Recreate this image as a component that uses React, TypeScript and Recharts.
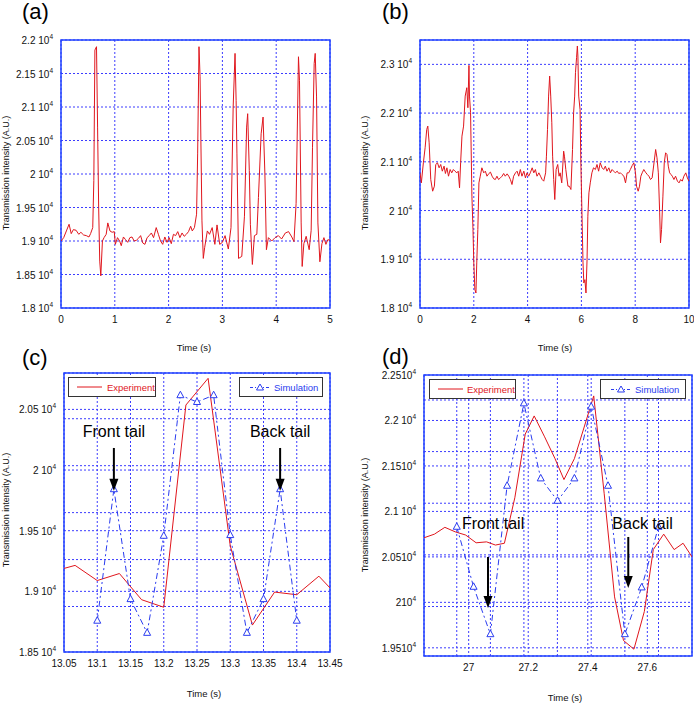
import React from 'react';
import {
  LineChart,
  Line,
  XAxis,
  YAxis,
  CartesianGrid,
  ReferenceArea,
  ReferenceLine,
  ReferenceDot,
} from 'recharts';

const RED = '#e0161d';
const BLUE = '#2a3cf0';
const GRID = '#3c3cff';
const FRAME = '#2142ff';
const FONT = '"Liberation Sans", Arial, sans-serif';

// (a) 0-5 s record
const timeA = [0, 0.05, 0.1, 0.15, 0.19, 0.23, 0.28, 0.33, 0.37, 0.42, 0.47, 0.52, 0.55, 0.59, 0.61, 0.63, 0.66, 0.68, 0.7, 0.72, 0.74, 0.77, 0.8, 0.84, 0.87, 0.91, 0.95, 0.99, 1.01, 1.05, 1.09, 1.12, 1.16, 1.2, 1.24, 1.28, 1.32, 1.36, 1.4, 1.44, 1.48, 1.52, 1.56, 1.6, 1.64, 1.68, 1.72, 1.77, 1.81, 1.85, 1.89, 1.93, 1.97, 2.01, 2.05, 2.09, 2.13, 2.17, 2.21, 2.25, 2.29, 2.33, 2.37, 2.41, 2.44, 2.48, 2.52, 2.54, 2.565, 2.585, 2.6, 2.62, 2.645, 2.67, 2.72, 2.76, 2.81, 2.86, 2.9, 2.95, 3, 3.05, 3.11, 3.16, 3.2, 3.235, 3.255, 3.27, 3.3, 3.36, 3.41, 3.45, 3.47, 3.5, 3.52, 3.557, 3.595, 3.64, 3.67, 3.72, 3.756, 3.79, 3.818, 3.855, 3.917, 3.979, 4.04, 4.1, 4.17, 4.23, 4.29, 4.33, 4.37, 4.414, 4.433, 4.464, 4.483, 4.514, 4.557, 4.613, 4.65, 4.675, 4.706, 4.725, 4.75, 4.775, 4.812, 4.85, 4.887, 4.924, 4.96, 5];
const intensityA = [19000, 19050, 19150, 19250, 19110, 19170, 19160, 19100, 19130, 19090, 19080, 19060, 19110, 19200, 19900, 21850, 21900, 20700, 19500, 18700, 18480, 19000, 19050, 19100, 19270, 19150, 19130, 19140, 18950, 19050, 19000, 18930, 19060, 19020, 18980, 19050, 19060, 19000, 19010, 19040, 19080, 18970, 18950, 19050, 19080, 19120, 19050, 19200, 19100, 19000, 18950, 19060, 18980, 19050, 18960, 19100, 19080, 19140, 19050, 19120, 19070, 19100, 19140, 19220, 19150, 19200, 19400, 20300, 21900, 21450, 20500, 19300, 18740, 18900, 19150, 19100, 19200, 18950, 19240, 18950, 18980, 19080, 18880, 19200, 21000, 21800, 21100, 20300, 18740, 18770, 19370, 20700, 20900, 20050, 19250, 18650, 19080, 19100, 19650, 20600, 20850, 20000, 18870, 19050, 19000, 19050, 19080, 19030, 19120, 19140, 19060, 18990, 19560, 21750, 21400, 19270, 18620, 18960, 19070, 18870, 19160, 20400, 21650, 21800, 21150, 19270, 18690, 18960, 19050, 18950, 19020, 19010];

// (b) 0-10 s record
const timeB = [0, 0.05, 0.125, 0.19, 0.25, 0.29, 0.34, 0.4, 0.47, 0.535, 0.585, 0.65, 0.71, 0.77, 0.83, 0.895, 0.945, 1, 1.06, 1.12, 1.18, 1.24, 1.3, 1.37, 1.42, 1.47, 1.51, 1.56, 1.62, 1.68, 1.74, 1.78, 1.82, 1.84, 1.88, 1.93, 1.97, 2, 2.04, 2.08, 2.11, 2.15, 2.19, 2.24, 2.3, 2.37, 2.43, 2.49, 2.56, 2.62, 2.68, 2.74, 2.8, 2.86, 2.92, 2.99, 3.05, 3.11, 3.17, 3.24, 3.3, 3.36, 3.42, 3.48, 3.55, 3.61, 3.67, 3.73, 3.79, 3.86, 3.92, 3.98, 4.04, 4.1, 4.17, 4.23, 4.29, 4.35, 4.42, 4.48, 4.54, 4.6, 4.67, 4.7, 4.74, 4.78, 4.82, 4.86, 4.9, 4.93, 4.97, 5.01, 5.06, 5.12, 5.17, 5.21, 5.27, 5.34, 5.37, 5.42, 5.5, 5.55, 5.61, 5.67, 5.71, 5.75, 5.78, 5.82, 5.85, 5.87, 5.9, 5.95, 5.98, 6.02, 6.06, 6.09, 6.13, 6.17, 6.21, 6.24, 6.28, 6.33, 6.39, 6.45, 6.52, 6.58, 6.64, 6.7, 6.77, 6.83, 6.89, 6.95, 7.02, 7.08, 7.14, 7.2, 7.26, 7.33, 7.39, 7.45, 7.51, 7.58, 7.64, 7.7, 7.76, 7.82, 7.89, 7.95, 8.01, 8.05, 8.11, 8.16, 8.21, 8.26, 8.32, 8.38, 8.45, 8.51, 8.57, 8.63, 8.7, 8.76, 8.81, 8.86, 8.91, 8.94, 8.98, 9.03, 9.08, 9.13, 9.18, 9.23, 9.28, 9.33, 9.38, 9.44, 9.5, 9.57, 9.63, 9.69, 9.75, 9.81, 9.88, 9.94, 10];
const intensityB = [20774, 20568, 20979, 21288, 21664, 21733, 21390, 20637, 20397, 20500, 20945, 20979, 20877, 20945, 20808, 20911, 20760, 20877, 20705, 20842, 20774, 20842, 20808, 20774, 20808, 20466, 20979, 21527, 21733, 22349, 22521, 22110, 22979, 22349, 22007, 20295, 19610, 18925, 18377, 18308, 18925, 19610, 20568, 20705, 20877, 20774, 20808, 20705, 20760, 20788, 20705, 20651, 20637, 20705, 20637, 20671, 20705, 20760, 20705, 20753, 20705, 20637, 20534, 20705, 20774, 20808, 20705, 20842, 20705, 20808, 20671, 20774, 20705, 20774, 20877, 20774, 20842, 20705, 20774, 20705, 20637, 20603, 20774, 21116, 21664, 22349, 22760, 22349, 21801, 21116, 20637, 20226, 20842, 20945, 20705, 20774, 20568, 21219, 21116, 20842, 20500, 20500, 20432, 21253, 22007, 22349, 22829, 23137, 23377, 23171, 22349, 22075, 20979, 19952, 18925, 18514, 18582, 18308, 18993, 19884, 20363, 20568, 20774, 20877, 20842, 20945, 20808, 20979, 20877, 20842, 20911, 20808, 20877, 20774, 20842, 20808, 20774, 20808, 20760, 20774, 20740, 20705, 20568, 20774, 20774, 20842, 20925, 20979, 20774, 20500, 20397, 20500, 20705, 20774, 20842, 20788, 20740, 20705, 20637, 20671, 20979, 21253, 21082, 20774, 19952, 19336, 19610, 20295, 20979, 21185, 21151, 20911, 20774, 20740, 20705, 20637, 20705, 20603, 20568, 20637, 20603, 20705, 20774, 20671, 20603];

// (c) zoom 13.05-13.45 s
const timeExpC = [13.05, 13.0667, 13.1, 13.1333, 13.1667, 13.2, 13.2333, 13.2667, 13.3, 13.3333, 13.3667, 13.4, 13.4333, 13.45];
const expC = [19189, 19214, 19089, 19147, 18931, 18869, 20536, 20756, 19375, 18722, 18994, 18972, 19125, 19028];
const timeSimC = [13.1, 13.125, 13.15, 13.175, 13.2, 13.225, 13.25, 13.275, 13.3, 13.325, 13.35, 13.375, 13.4];
const simC = [18758, 19842, 18936, 18658, 19458, 20617, 20561, 20617, 19464, 18658, 18936, 19842, 18758];

// (d) zoom 26.85-27.75 s
const timeExpD = [26.85, 26.885, 26.92, 26.955, 26.99, 27.025, 27.06, 27.09, 27.12, 27.155, 27.19, 27.22, 27.255, 27.29, 27.32, 27.355, 27.39, 27.42, 27.455, 27.49, 27.52, 27.555, 27.59, 27.62, 27.655, 27.69, 27.72, 27.75];
const expD = [20710, 20750, 20825, 20775, 20740, 20655, 20665, 20630, 20650, 21150, 21850, 22050, 21820, 21580, 21350, 21580, 21950, 22270, 21200, 20060, 19580, 19485, 19900, 20580, 20750, 20580, 20650, 20500];
const timeSimD = [26.96, 27.0165, 27.073, 27.129, 27.1855, 27.242, 27.2985, 27.355, 27.4115, 27.468, 27.5245, 27.581, 27.6375];
const simD = [20831, 20171, 19650, 21282, 22188, 21363, 21117, 21363, 22152, 21282, 19650, 20164, 20831];

// axes
const xTicksA = [0, 1, 2, 3, 4, 5];
const yTicksA = [18000, 18500, 19000, 19500, 20000, 20500, 21000, 21500, 22000];
const xTicksB = [0, 2, 4, 6, 8, 10];
const yTicksB = [18000, 19000, 20000, 21000, 22000, 23000];
const xTicksC = [13.05, 13.1, 13.15, 13.2, 13.25, 13.3, 13.35, 13.4, 13.45];
const yTicksC = [18500, 19000, 19500, 20000, 20500];
const xTicksD = [27, 27.2, 27.4, 27.6];
const yTicksD = [19500, 20000, 20500, 21000, 21500, 22000, 22500];

// second (simulation) axes grid
const simGridYC = [20423, 20036, 19649, 19262, 18875];
const simGridYD = [22225, 21658, 21090, 20522, 19954];
const simGridXD = [26.96, 27.073, 27.1855, 27.298, 27.4115, 27.5245, 27.6375];

// tail annotations: label, x, label y, arrow top, arrow tip
const tailLabels = ['Front tail', 'Back tail'];
const tailXC = [13.125, 13.375];
const tailTextYC = [20314, 20314];
const tailTopC = [20182, 20182];
const tailTipC = [19830, 19830];
const tailXD = [27.065, 27.536];
const tailTextXD = [27.082, 27.584];
const tailTextYD = [20862, 20862];
const tailTopD = [20499, 20719];
const tailTipD = [19938, 20158];

const pts = (ts: number[], vs: number[]) => ts.map((t, i) => ({ t, v: vs[i] }));

const fmtE4 = (v: number) => String(Math.round(v / 10) / 1000);

const makeYTick = (tight: boolean) => (props: any) => {
  const { x, y, payload } = props;
  const s = fmtE4(payload.value);
  const gap = tight && s.length !== 3 ? '' : ' ';
  return (
    <text x={x} y={y} dy={4} textAnchor="end" fontSize={10} fill="#111" fontFamily={FONT}>
      {s + gap + '10'}
      <tspan fontSize={6.5} dy={-5}>4</tspan>
    </text>
  );
};

const Tri = (p: any) => {
  const { cx, cy, index } = p;
  if (cx == null || cy == null) return <g key={`t-${index}`} />;
  return (
    <polygon
      key={`t-${index}`}
      points={`${cx},${cy - 4} ${cx - 3.5},${cy + 2.5} ${cx + 3.5},${cy + 2.5}`}
      fill="#fff"
      stroke={BLUE}
      strokeWidth={1}
    />
  );
};

const TailText = (label: string) => (p: any) => (
  <text x={p.cx} y={p.cy} textAnchor="middle" dominantBaseline="central" fontSize={16} fill="#000" fontFamily={FONT}>
    {label}
  </text>
);

const ArrowHead = (p: any) => (
  <polygon points={`${p.cx},${p.cy} ${p.cx - 4.5},${p.cy - 12} ${p.cx + 4.5},${p.cy - 12}`} fill="#000" />
);

type PanelProps = {
  left: number;
  top: number;
  plot: [number, number, number, number];
  xDomain: [number, number];
  yDomain: [number, number];
  xTicks: number[];
  yTicks: number[];
  tightY?: boolean;
  xFmt?: (v: number) => string;
  children?: React.ReactNode;
};

function Panel({ left, top, plot, xDomain, yDomain, xTicks, yTicks, tightY, xFmt, children }: PanelProps) {
  const W = 347;
  const H = top === 0 ? 350 : 355;
  const xh = 30;
  return (
    <div style={{ position: 'absolute', left, top }}>
      <LineChart
        width={W}
        height={H}
        margin={{ top: plot[1] - top, right: left + W - plot[2], bottom: top + H - plot[3] - xh, left: 0 }}
      >
        <CartesianGrid stroke={GRID} strokeDasharray="2 2" strokeWidth={1} />
        <XAxis
          type="number"
          dataKey="t"
          domain={xDomain}
          ticks={xTicks}
          allowDataOverflow
          axisLine={false}
          tickLine={false}
          height={xh}
          interval={0}
          tickFormatter={xFmt}
          tick={{ fontSize: 10, fill: '#111', fontFamily: FONT }}
        />
        <YAxis
          type="number"
          dataKey="v"
          domain={yDomain}
          ticks={yTicks}
          allowDataOverflow
          axisLine={false}
          tickLine={false}
          interval={0}
          width={plot[0] - left}
          tick={makeYTick(!!tightY)}
        />
        {children}
        <ReferenceArea
          x1={xDomain[0]}
          x2={xDomain[1]}
          y1={yDomain[0]}
          y2={yDomain[1]}
          fill="none"
          stroke={FRAME}
          strokeWidth={1.5}
        />
      </LineChart>
    </div>
  );
}

const textBase: React.CSSProperties = {
  position: 'absolute',
  fontFamily: FONT,
  color: '#111',
  whiteSpace: 'nowrap',
  lineHeight: 1,
};

const PanelTag = ({ x, y, t }: { x: number; y: number; t: string }) => (
  <div style={{ ...textBase, left: x, top: y, fontSize: 22, color: '#000' }}>{t}</div>
);

const XTitle = ({ x, y }: { x: number; y: number }) => (
  <div style={{ ...textBase, left: x, top: y, fontSize: 9.5, transform: 'translate(-50%,-50%)' }}>Time (s)</div>
);

const YTitle = ({ x, y }: { x: number; y: number }) => (
  <div style={{ ...textBase, left: x, top: y, fontSize: 9, transform: 'translate(-50%,-50%) rotate(-90deg)' }}>
    Transmission intensity (A.U.)
  </div>
);

const legendBox: React.CSSProperties = {
  position: 'absolute',
  height: 20,
  border: '1.5px solid #333',
  background: '#fff',
  boxSizing: 'border-box',
  display: 'flex',
  alignItems: 'center',
  fontFamily: FONT,
  fontSize: 9.5,
  whiteSpace: 'nowrap',
};

const ExpLegend = ({ x, y, w }: { x: number; y: number; w: number }) => (
  <div style={{ ...legendBox, left: x, top: y, width: w, color: RED }}>
    <svg width={34} height={10} style={{ marginLeft: 6 }}>
      <line x1={2} y1={5} x2={27} y2={5} stroke={RED} strokeWidth={1} />
    </svg>
    Experiment
  </div>
);

const SimLegend = ({ x, y, w }: { x: number; y: number; w: number }) => (
  <div style={{ ...legendBox, left: x, top: y, width: w, color: BLUE }}>
    <svg width={24} height={10} style={{ marginLeft: 10 }}>
      <line x1={0} y1={5.5} x2={20} y2={5.5} stroke={BLUE} strokeWidth={1} strokeDasharray="3 2 1 2" />
      <polygon points="10,2 6.5,8 13.5,8" fill="#fff" stroke={BLUE} strokeWidth={1} />
    </svg>
    Simulation
  </div>
);

const fmtC = (v: number) => String(Math.round(v * 100) / 100);
const fmtD = (v: number) => String(Math.round(v * 10) / 10);

export default function App() {
  const dataA = pts(timeA, intensityA);
  const dataB = pts(timeB, intensityB);
  const expDataC = pts(timeExpC, expC);
  const simDataC = pts(timeSimC, simC);
  const expDataD = pts(timeExpD, expD);
  const simDataD = pts(timeSimD, simD);

  return (
    <div style={{ position: 'absolute', left: 0, top: 0, width: 694, height: 705, background: '#fff', overflow: 'hidden' }}>
      <Panel left={0} top={0} plot={[61, 40, 330, 308]} xDomain={[0, 5]} yDomain={[18000, 22000]} xTicks={xTicksA} yTicks={yTicksA}>
        <Line data={dataA} dataKey="v" stroke={RED} strokeWidth={1} dot={false} isAnimationActive={false} />
      </Panel>

      <Panel left={347} top={0} plot={[420, 40, 689, 308]} xDomain={[0, 10]} yDomain={[18000, 23500]} xTicks={xTicksB} yTicks={yTicksB}>
        <Line data={dataB} dataKey="v" stroke={RED} strokeWidth={1} dot={false} isAnimationActive={false} />
      </Panel>

      <Panel
        left={0}
        top={350}
        plot={[64, 373, 330, 652]}
        xDomain={[13.05, 13.45]}
        yDomain={[18500, 20800]}
        xTicks={xTicksC}
        yTicks={yTicksC}
        xFmt={fmtC}
      >
        {simGridYC.map((y) => (
          <ReferenceLine key={`gc-${y}`} y={y} stroke={GRID} strokeDasharray="2 2" />
        ))}
        <Line data={expDataC} dataKey="v" stroke={RED} strokeWidth={1} dot={false} isAnimationActive={false} />
        <Line
          data={simDataC}
          dataKey="v"
          stroke={BLUE}
          strokeWidth={1}
          strokeDasharray="6 3 2 3"
          dot={Tri}
          isAnimationActive={false}
        />
        {tailLabels.map((lab, i) => (
          <ReferenceDot key={`tc-${i}`} x={tailXC[i]} y={tailTextYC[i]} r={0} shape={TailText(lab)} />
        ))}
        {tailLabels.map((lab, i) => (
          <ReferenceLine
            key={`ac-${i}`}
            segment={[
              { x: tailXC[i], y: tailTopC[i] },
              { x: tailXC[i], y: tailTipC[i] + 60 },
            ]}
            stroke="#000"
            strokeWidth={2}
          />
        ))}
        {tailLabels.map((lab, i) => (
          <ReferenceDot key={`hc-${i}`} x={tailXC[i]} y={tailTipC[i]} r={0} shape={ArrowHead} />
        ))}
      </Panel>

      <Panel
        left={347}
        top={350}
        plot={[424, 375, 692, 656]}
        xDomain={[26.85, 27.75]}
        yDomain={[19410, 22500]}
        xTicks={xTicksD}
        yTicks={yTicksD}
        tightY
        xFmt={fmtD}
      >
        {simGridYD.map((y) => (
          <ReferenceLine key={`gdy-${y}`} y={y} stroke={GRID} strokeDasharray="2 2" />
        ))}
        {simGridXD.map((x) => (
          <ReferenceLine key={`gdx-${x}`} x={x} stroke={GRID} strokeDasharray="2 2" />
        ))}
        <Line data={expDataD} dataKey="v" stroke={RED} strokeWidth={1} dot={false} isAnimationActive={false} />
        <Line
          data={simDataD}
          dataKey="v"
          stroke={BLUE}
          strokeWidth={1}
          strokeDasharray="6 3 2 3"
          dot={Tri}
          isAnimationActive={false}
        />
        {tailLabels.map((lab, i) => (
          <ReferenceDot key={`td-${i}`} x={tailTextXD[i]} y={tailTextYD[i]} r={0} shape={TailText(lab)} />
        ))}
        {tailLabels.map((lab, i) => (
          <ReferenceLine
            key={`ad-${i}`}
            segment={[
              { x: tailXD[i], y: tailTopD[i] },
              { x: tailXD[i], y: tailTipD[i] + 80 },
            ]}
            stroke="#000"
            strokeWidth={2}
          />
        ))}
        {tailLabels.map((lab, i) => (
          <ReferenceDot key={`hd-${i}`} x={tailXD[i]} y={tailTipD[i]} r={0} shape={ArrowHead} />
        ))}
      </Panel>

      <PanelTag x={22} y={1} t="(a)" />
      <PanelTag x={382} y={1} t="(b)" />
      <PanelTag x={22} y={347} t="(c)" />
      <PanelTag x={382} y={346} t="(d)" />

      <XTitle x={194} y={348} />
      <XTitle x={555} y={348} />
      <XTitle x={204} y={694} />
      <XTitle x={565} y={698} />

      <YTitle x={6} y={173} />
      <YTitle x={365} y={173} />
      <YTitle x={6} y={510} />
      <YTitle x={365} y={515} />

      <ExpLegend x={68} y={377} w={88} />
      <SimLegend x={239} y={377} w={84} />
      <ExpLegend x={429} y={379} w={87} />
      <SimLegend x={600} y={379} w={86} />
    </div>
  );
}
